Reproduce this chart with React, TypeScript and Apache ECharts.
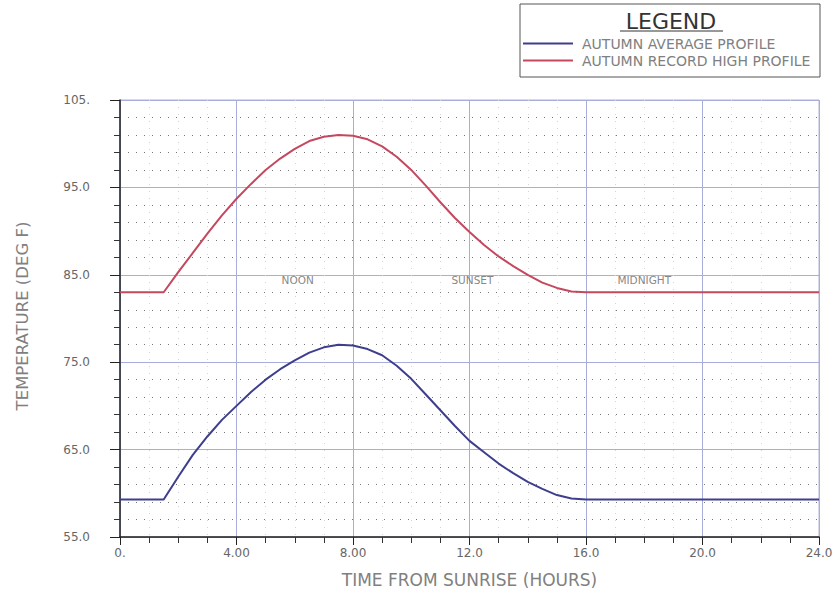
import React, { useEffect, useRef } from "react";
import * as echarts from "echarts";

const hours = [0, 1.5, 2, 2.5, 3, 3.5, 4, 4.5, 5, 5.5, 6, 6.5, 7, 7.5, 8, 8.5, 9, 9.5, 10, 10.5, 11, 11.5, 12, 12.5, 13, 13.5, 14, 14.5, 15, 15.5, 16, 24];
const averageProfile = [59.3, 59.3, 61.9, 64.4, 66.5, 68.4, 70.0, 71.6, 73.0, 74.2, 75.2, 76.1, 76.7, 77.0, 76.9, 76.5, 75.8, 74.6, 73.1, 71.3, 69.5, 67.7, 66.0, 64.7, 63.4, 62.3, 61.3, 60.5, 59.8, 59.4, 59.3, 59.3];
const recordHighProfile = [83.0, 83.0, 85.3, 87.5, 89.7, 91.8, 93.7, 95.4, 97.0, 98.3, 99.4, 100.3, 100.8, 101.0, 100.9, 100.5, 99.7, 98.5, 97.0, 95.2, 93.3, 91.5, 89.9, 88.4, 87.1, 86.0, 85.0, 84.1, 83.5, 83.1, 83.0, 83.0];
const seriesNames = ["AUTUMN AVERAGE PROFILE", "AUTUMN RECORD HIGH PROFILE"];
const markerNames = ["NOON", "SUNSET", "MIDNIGHT"];
const markerHours = [6.1, 12.1, 18.0];
const markerTemps = [84.4, 84.4, 84.4];
const xTickLabels: Record<number, string> = { 0: "0.", 4: "4.00", 8: "8.00", 12: "12.0", 16: "16.0", 20: "20.0", 24: "24.0" };
const yTickLabels: Record<number, string> = { 55: "55.0", 65: "65.0", 75: "75.0", 85: "85.0", 95: "95.0", 105: "105." };

const FONT = "'DejaVu Sans', 'Liberation Sans', sans-serif";

export default function App() {
  const ref = useRef<HTMLDivElement>(null);
  useEffect(() => {
    if (!ref.current) return;
    const chart = echarts.init(ref.current, null, { renderer: "svg" });
    const zip = (ys: number[]) => hours.map((h, i) => [h, ys[i]]);
    chart.setOption({
      animation: false,
      backgroundColor: "#ffffff",
      textStyle: { fontFamily: FONT },
      grid: { left: 120, right: 17, top: 100, bottom: 75, show: true, borderColor: "#b0b4d8", borderWidth: 1 },
      legend: {
        orient: "vertical",
        left: 523,
        top: 36,
        padding: 0,
        itemWidth: 50,
        itemHeight: 2,
        itemGap: 2,
        icon: "rect",
        textStyle: { fontFamily: FONT, fontSize: 14, lineHeight: 15, color: "#808080", padding: [0, 0, 0, 4] },
        data: seriesNames,
      },
      graphic: [
        { type: "rect", shape: { x: 520, y: 4, width: 300, height: 73 }, style: { fill: "none", stroke: "#555", lineWidth: 1 } },
        { type: "text", x: 671, y: 21, style: { text: "LEGEND", font: `22px ${FONT}`, fill: "#333", align: "center", verticalAlign: "middle" } },
        { type: "line", shape: { x1: 620, y1: 31, x2: 723, y2: 31 }, style: { stroke: "#333", lineWidth: 1 } },
        { type: "text", x: 22, y: 316, rotation: Math.PI / 2, style: { text: "TEMPERATURE (DEG F)", font: `16.5px ${FONT}`, fill: "#808080", align: "center", verticalAlign: "middle" } },
      ],
      xAxis: {
        type: "value",
        min: 0,
        max: 24,
        interval: 4,
        name: "TIME FROM SUNRISE (HOURS)",
        nameLocation: "middle",
        nameGap: 34,
        nameTextStyle: { fontFamily: FONT, fontSize: 17, color: "#808080" },
        axisLine: { show: true, lineStyle: { color: "#222", width: 1.5 } },
        axisTick: { show: true, length: 8, lineStyle: { color: "#222" } },
        minorTick: { show: true, splitNumber: 4, length: 6, lineStyle: { color: "#333" } },
        axisLabel: { formatter: (v: number) => xTickLabels[v] ?? "", color: "#666", fontSize: 12, margin: 10 },
        splitLine: { show: true, lineStyle: { color: "#a8aedc", width: 1 } },
        minorSplitLine: { show: true, lineStyle: { color: "#d4d4d4", type: [1, 6], width: 1 } },
      },
      yAxis: {
        type: "value",
        min: 55,
        max: 105,
        interval: 10,
        axisLine: { show: true, lineStyle: { color: "#222", width: 1.5 } },
        axisTick: { show: true, length: 10, lineStyle: { color: "#222" } },
        minorTick: { show: true, splitNumber: 5, length: 6, lineStyle: { color: "#333" } },
        axisLabel: { formatter: (v: number) => yTickLabels[v] ?? "", color: "#666", fontSize: 12, margin: 30 },
        splitLine: { show: true, lineStyle: { color: "#a8aedc", width: 1 } },
        minorSplitLine: { show: true, lineStyle: { color: "#777", type: [1, 7], width: 1 } },
      },
      series: [
        {
          name: seriesNames[0],
          type: "line",
          data: zip(averageProfile),
          smooth: false,
          showSymbol: false,
          color: "#3e3e8e",
          lineStyle: { color: "#3e3e8e", width: 2, join: "round" },
        },
        {
          name: seriesNames[1],
          type: "line",
          data: zip(recordHighProfile),
          smooth: false,
          showSymbol: false,
          color: "#c4485e",
          lineStyle: { color: "#c4485e", width: 2, join: "round" },
        },
        {
          type: "scatter",
          symbolSize: 0,
          silent: true,
          data: markerNames.map((n, i) => ({ value: [markerHours[i], markerTemps[i]], name: n })),
          label: { show: true, position: "inside", formatter: (p: any) => p.name, color: "#666", fontSize: 10.5, fontFamily: FONT },
        },
      ],
    });
    return () => chart.dispose();
  }, []);
  return <div ref={ref} style={{ position: "fixed", left: 0, top: 0, width: 836, height: 612 }} />;
}
